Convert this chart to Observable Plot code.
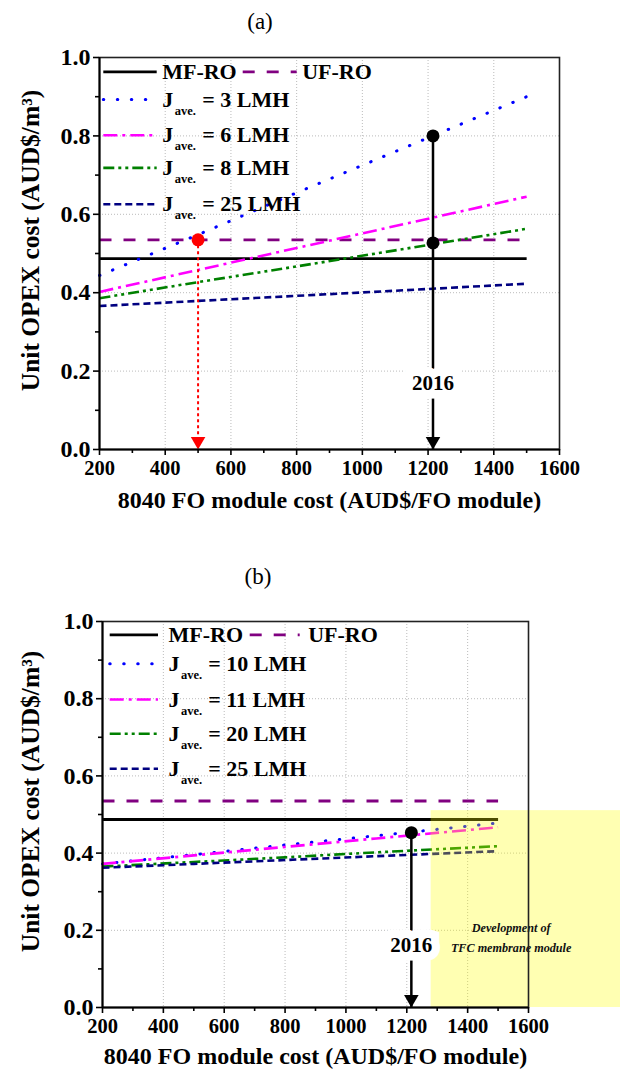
<!DOCTYPE html>
<html><head><meta charset="utf-8">
<script src="https://cdn.jsdelivr.net/npm/d3@7"></script>
<script src="https://cdn.jsdelivr.net/npm/@observablehq/plot@0.6"></script>
<style>
body{margin:0;background:#fff;width:620px;height:1078px;position:relative;overflow:hidden;font-family:"Liberation Serif","Times New Roman",serif;}
.title{position:absolute;left:0;width:520px;text-align:center;font-size:23px;line-height:26px;color:#000;}
#a{position:absolute;left:0;top:40px}
#b{position:absolute;left:0;top:600px}
</style></head><body>
<div class="title" style="top:9px;">(a)</div>
<div id="a"></div>
<div class="title" style="top:564px;width:516px;">(b)</div>
<div id="b"></div>
<script>
// ---------- data ----------
const moduleCost = [200, 500, 800, 1100, 1500];
const refCost = [200, 1500];
// panel (a)
const aMFRO = [0.487, 0.487];
const aUFRO = [0.535, 0.535];
const aFlux = ["3", "6", "8", "25"];
const aJ3  = [0.444, 0.548, 0.655, 0.760, 0.900];
const aJ6  = [0.402, 0.458, 0.514, 0.570, 0.645];
const aJ8  = [0.386, 0.427, 0.467, 0.508, 0.563];
const aJ25 = [0.366, 0.379, 0.392, 0.405, 0.423];
const aMarkCost = [1215, 1215];
const aMarkOPEX = [0.800, 0.527];
const aTargetCost = [500];
const aTargetOPEX = [0.535];
// panel (b)
const bMFRO = [0.487, 0.487];
const bUFRO = [0.535, 0.535];
const bFlux = ["10", "11", "20", "25"];
const bJ10 = [0.372, 0.396, 0.421, 0.445, 0.478];
const bJ11 = [0.372, 0.394, 0.416, 0.438, 0.467];
const bJ20 = [0.365, 0.377, 0.389, 0.402, 0.418];
const bJ25 = [0.362, 0.372, 0.382, 0.392, 0.405];
const bMarkCost = [1215];
const bMarkOPEX = [0.453];
const tfcCost = [1280, 1905];
const tfcOPEX = [0, 0.51];
const tfcLabel = ["Development of", "TFC membrane module"];
const tfcLabelPos = {cost: 1543, opex: [0.205, 0.155]};
const yearLabel = "2016";
// ticks
const xTickValues = [200, 400, 600, 800, 1000, 1200, 1400, 1600];
const xMinorValues = [300, 500, 700, 900, 1100, 1300, 1500];
const yTickValues = [0, 0.2, 0.4, 0.6, 0.8, 1.0];
const yMinorValues = [0.1, 0.3, 0.5, 0.7, 0.9];
const xLabel = "8040 FO module cost (AUD$/FO module)";
const yLabel = "Unit OPEX cost (AUD$/m³)";

// ---------- styles ----------
const lineStyles = [
  {stroke: "#000000", dash: null, w: 2.8, cap: "butt"},           // MF-RO
  {stroke: "#800080", dash: "12,12", w: 2.8, cap: "butt"},        // UF-RO
  {stroke: "#0000ff", dash: "0.5,13.5", w: 3, cap: "round"},      // dotted
  {stroke: "#ff00ff", dash: "14,5,3,5", w: 2.6, cap: "butt"},     // dash-dot
  {stroke: "#008000", dash: "11,4,3,4,3,4", w: 2.6, cap: "butt"}, // dash-dot-dot
  {stroke: "#000080", dash: "7,4", w: 2.6, cap: "butt"}           // short dash
];
const FONT = "Liberation Serif";

function buildPanel(p) {
  const W = 620;
  const plotW = W - p.ml - p.mr;
  const plotH = p.h - p.mt - p.mb;
  const px2x = px => 200 + px * 1400 / plotW;
  const py2y = py => 1 - py / plotH;
  const marks = [];
  marks.push(Plot.gridX(xTickValues.slice(1, -1), {stroke: "#aaa", strokeOpacity: 0.8, strokeDasharray: "1,2", strokeWidth: 1}));
  marks.push(Plot.gridY(yTickValues.slice(1, -1), {stroke: "#aaa", strokeOpacity: 0.8, strokeDasharray: "1,2", strokeWidth: 1}));
  // series
  const series = [
    {x: refCost, y: p.mf}, {x: refCost, y: p.uf},
    ...p.flux.map((f, i) => ({x: moduleCost, y: p.jv[i]}))
  ];
  series.forEach((s, i) => {
    const st = lineStyles[i];
    marks.push(Plot.line(s.x.map((x, j) => ({x, y: s.y[j]})), {
      x: "x", y: "y", stroke: st.stroke, strokeWidth: st.w,
      strokeDasharray: st.dash, strokeLinecap: st.cap
    }));
  });
  if (p.region) {
    marks.push(Plot.rect([0], {x1: () => p.region.x[0], x2: () => p.region.x[1], y1: () => p.region.y[0], y2: () => p.region.y[1], fill: "yellow", fillOpacity: 0.3}));
  }
  // annotations
  if (p.target) {
    const t = p.target.x.map((x, i) => ({x, y: p.target.y[i]}));
    marks.push(Plot.ruleX(t, {x: "x", y1: "y", y2: 0, stroke: "#ff0000", strokeWidth: 2, strokeDasharray: "3,3"}));
    marks.push(Plot.dot(t, {x: "x", y: 0, symbol: "triangle", rotate: 180, r: 5.4, dy: -8.3, fill: "#ff0000", stroke: "none"}));
    marks.push(Plot.dot(t, {x: "x", y: "y", r: 6.5, fill: "#ff0000", stroke: "none"}));
  }
  const m = p.mark.x.map((x, i) => ({x, y: p.mark.y[i]}));
  const top = [m.reduce((a, b) => (b.y > a.y ? b : a))];
  marks.push(Plot.ruleX(top, {x: "x", y1: "y", y2: 0, stroke: "#000", strokeWidth: 2.5}));
  marks.push(Plot.dot(top, {x: "x", y: 0, symbol: "triangle", rotate: 180, r: 5.4, dy: -8.3, fill: "#000", stroke: "none"}));
  marks.push(Plot.dot(m, {x: "x", y: "y", r: 6.5, fill: "#000", stroke: "none"}));
  marks.push(Plot.text(top, {x: "x", y: () => p.yearY, text: () => yearLabel, fontSize: 21, fontWeight: "bold", fill: "#000", stroke: "#fff", strokeWidth: 17, strokeLinejoin: "miter"}));
  if (p.region) {
    marks.push(Plot.text(tfcLabel, {x: () => tfcLabelPos.cost, y: (d, i) => tfcLabelPos.opex[i], text: d => d, fontSize: 12.2, fontStyle: "italic", fontWeight: "bold", fill: "#111"}));
  }
  // frame & axes
  marks.push(Plot.frame({stroke: "#222", strokeWidth: 1.6}));
  marks.push(Plot.axisX(xTickValues, {tickSize: 6, tickPadding: 5, strokeWidth: 1.6, fontSize: 20.5, fontWeight: "bold", label: null, tickFormat: d => String(d)}));
  marks.push(Plot.axisX(xMinorValues, {tickSize: 4, strokeWidth: 1.6, label: null, tickFormat: () => ""}));
  marks.push(Plot.axisY(yTickValues, {tickSize: 6, tickPadding: 3, strokeWidth: 1.6, fontSize: 24, fontWeight: "bold", label: null, tickFormat: d3.format(".1f")}));
  marks.push(Plot.axisY(yMinorValues, {tickSize: 4, strokeWidth: 1.6, label: null, tickFormat: () => ""}));
  marks.push(Plot.ruleX([200], {stroke: "#000", strokeWidth: 2}));
  marks.push(Plot.ruleY([0], {stroke: "#000", strokeWidth: 2}));
  marks.push(Plot.text([xLabel], {frameAnchor: "bottom", dy: p.xLabelDy, text: d => d, fontSize: 24, fontWeight: "bold", fill: "#000", textAnchor: "middle"}));
  marks.push(Plot.text([yLabel], {frameAnchor: "left", rotate: -90, dx: p.yLabelDx, dy: p.yLabelDy, text: d => d, fontSize: 25.5, fontWeight: "bold", fill: "#000", textAnchor: "middle"}));
  // legend
  const L = p.legend;
  const rowY = L.rows.map(py2y);
  const legendEntries = [
    {y: rowY[0], x1: L.s1[0], x2: L.s1[1], tx: L.t1, label: "MF-RO", st: lineStyles[0]},
    {y: rowY[0], x1: L.s2[0], x2: L.s2[1], tx: L.t2, label: "UF-RO", st: lineStyles[1]},
    ...p.flux.map((f, i) => ({y: rowY[i + 1], x1: L.s1[0], x2: L.s1[1], tx: L.t1, flux: f, st: lineStyles[i + 2]}))
  ];
  legendEntries.forEach(e => {
    marks.push(Plot.ruleY([e.y], {x1: px2x(e.x1), x2: px2x(e.x2), stroke: e.st.stroke, strokeWidth: e.st.w, strokeDasharray: e.st.dash, strokeLinecap: e.st.cap}));
    if (e.label) {
      marks.push(Plot.text([e.label], {x: px2x(e.tx), y: e.y, text: d => d, textAnchor: "start", fontSize: 22, fontWeight: "bold", fill: "#000"}));
    } else {
      marks.push(Plot.text(["J"], {x: px2x(e.tx), y: e.y, text: d => d, textAnchor: "start", fontSize: 22, fontWeight: "bold", fill: "#000"}));
      marks.push(Plot.text(["ave."], {x: px2x(e.tx + 12.5), y: e.y, dy: 11, text: d => d, textAnchor: "start", fontSize: 12.5, fontWeight: "bold", fill: "#000"}));
      marks.push(Plot.text([`= ${e.flux} LMH`], {x: px2x(L.t3), y: e.y, text: d => d, textAnchor: "start", fontSize: 22, fontWeight: "bold", fill: "#000"}));
    }
  });
  return Plot.plot({
    width: W, height: p.h,
    marginTop: p.mt, marginBottom: p.mb, marginLeft: p.ml, marginRight: p.mr,
    x: {domain: [200, 1600], axis: null},
    y: {domain: [0, 1], axis: null},
    style: {fontFamily: FONT, fontWeight: "bold", fontSize: "20px", color: "#000", background: "transparent", overflow: "visible"},
    marks
  });
}

document.getElementById("a").appendChild(buildPanel({
  h: 490, mt: 17, mb: 81, ml: 99, mr: 61,
  mf: aMFRO, uf: aUFRO, flux: aFlux, jv: [aJ3, aJ6, aJ8, aJ25],
  target: {x: aTargetCost, y: aTargetOPEX},
  mark: {x: aMarkCost, y: aMarkOPEX},
  yearY: 0.168,
  xLabelDy: 58, yLabelDx: -69, yLabelDy: -13,
  legend: {rows: [14.4, 42, 77.7, 110.4, 146.7], s1: [4.3, 57.7], s2: [143.7, 197.7], t1: 62.7, t2: 202.7, t3: 102.7}
}));
document.getElementById("b").appendChild(buildPanel({
  h: 478, mt: 21, mb: 71, ml: 102, mr: 92,
  mf: bMFRO, uf: bUFRO, flux: bFlux, jv: [bJ10, bJ11, bJ20, bJ25],
  target: null,
  mark: {x: bMarkCost, y: bMarkOPEX},
  region: {x: tfcCost, y: tfcOPEX},
  yearY: 0.160,
  xLabelDy: 56, yLabelDx: -72, yLabelDy: -13,
  legend: {rows: [13.3, 42.3, 78, 112.3, 147.3], s1: [7.7, 56], s2: [147.7, 197.7], t1: 66, t2: 205.7, t3: 105.7}
}));
</script>
</body></html>
